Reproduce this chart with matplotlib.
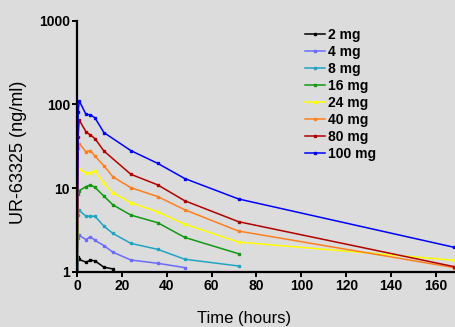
#!/usr/bin/env python3
"""Plasma concentration of UR-63325 vs time, one line per dose (log y)."""

import matplotlib
matplotlib.use("Agg")
import matplotlib.pyplot as plt
import numpy as np

# sampling times (hours); NaN in a series = not sampled / not shown
TIMES = [0, 0.5, 1, 4, 6, 8, 12, 16, 24, 36, 48, 72, 168]
NAN = np.nan

DOSES = ["2 mg", "4 mg", "8 mg", "16 mg", "24 mg", "40 mg", "80 mg", "100 mg"]
CONC_2 = [0.5, 1.5, 1.4, 1.3, 1.37, 1.35, 1.13, 1.08, NAN, NAN, NAN, NAN, NAN]
CONC_4 = [0.5, 2.5, 2.72, 2.42, 2.62, 2.37, 2.05, 1.71, 1.38, 1.26, 1.12, NAN, NAN]
CONC_8 = [0.5, 4.8, 5.4, 4.6, 4.6, 4.6, 3.5, 2.87, 2.18, 1.85, 1.41, 1.17, NAN]
CONC_16 = [0.5, 8.5, 9.3, 10.4, 10.9, 10.2, 8.0, 6.3, 4.75, 3.85, 2.57, 1.64, NAN]
CONC_24 = [0.5, 13.0, 17.0, 15.2, 15.2, 16.1, 11.4, 8.8, 6.67, 5.2, 3.7, 2.26, 1.37]
CONC_40 = [0.5, 30.0, 34.0, 27.2, 28.0, 24.1, 18.5, 13.6, 10.1, 7.9, 5.5, 3.06, 1.12]
CONC_80 = [0.5, 41.0, 65.0, 47.0, 43.0, 39.0, 27.7, NAN, 14.6, 10.9, 7.05, 3.96, 1.15]
CONC_100 = [0.5, 80.0, 110.0, 76.0, 75.0, 69.0, 46.0, NAN, 28.0, 19.7, 13.0, 7.4, 1.96]

SERIES = [CONC_2, CONC_4, CONC_8, CONC_16, CONC_24, CONC_40, CONC_80, CONC_100]
COLORS = ["#000000", "#6b6bff", "#1fa5c2", "#119911", "#ffff00",
          "#ff7f1f", "#b00000", "#0000ff"]

BG = "#dcdcdc"
plt.rcParams["font.family"] = ["Liberation Sans", "DejaVu Sans"]

fig = plt.figure(figsize=(4.55, 3.27), dpi=100, facecolor=BG)
ax = fig.add_axes([77 / 455, 1 - 271.7 / 327, 1 - 77 / 455, (271.7 - 20.7) / 327])
ax.set_facecolor(BG)

t = np.array(TIMES, dtype=float)
for label, conc, col in zip(DOSES, SERIES, COLORS):
    c = np.array(conc, dtype=float)
    ok = ~np.isnan(c)
    ax.plot(t[ok], c[ok], color=col, lw=1.1, marker="s", ms=1.5,
            mec=col, label=label)

ax.set_yscale("log")
ax.set_ylim(1, 1000)
ax.set_xlim(0, 168.5)
ax.set_xticks(range(0, 161, 20))
ax.set_yticks([1, 10, 100, 1000])
ax.set_yticklabels(["1", "10", "100", "1000"])
ax.yaxis.set_minor_locator(matplotlib.ticker.NullLocator())

for spine in ("top", "right"):
    ax.spines[spine].set_visible(False)
for spine in ("left", "bottom"):
    ax.spines[spine].set_linewidth(1.6)
ax.tick_params(direction="out", length=3.5, width=1.4, labelsize=10, pad=1.5)
for lab in ax.get_xticklabels() + ax.get_yticklabels():
    lab.set_fontweight("bold")

fig.text(244 / 455, 1 - 319 / 327, "Time (hours)", fontsize=12,
         ha="center", va="center")
fig.text(19 / 455, 1 - 152 / 327, "UR-63325 (ng/ml)", fontsize=13,
         rotation=90, ha="center", va="center")

leg = fig.legend(loc="upper left", bbox_to_anchor=(298 / 455, 1 - 21 / 327),
                 frameon=False, handlelength=1.45, handletextpad=0.2,
                 labelspacing=0.22, borderpad=0, numpoints=1,
                 prop={"size": 10, "weight": "bold"})

fig.savefig("out.png", dpi=100, facecolor=BG)
